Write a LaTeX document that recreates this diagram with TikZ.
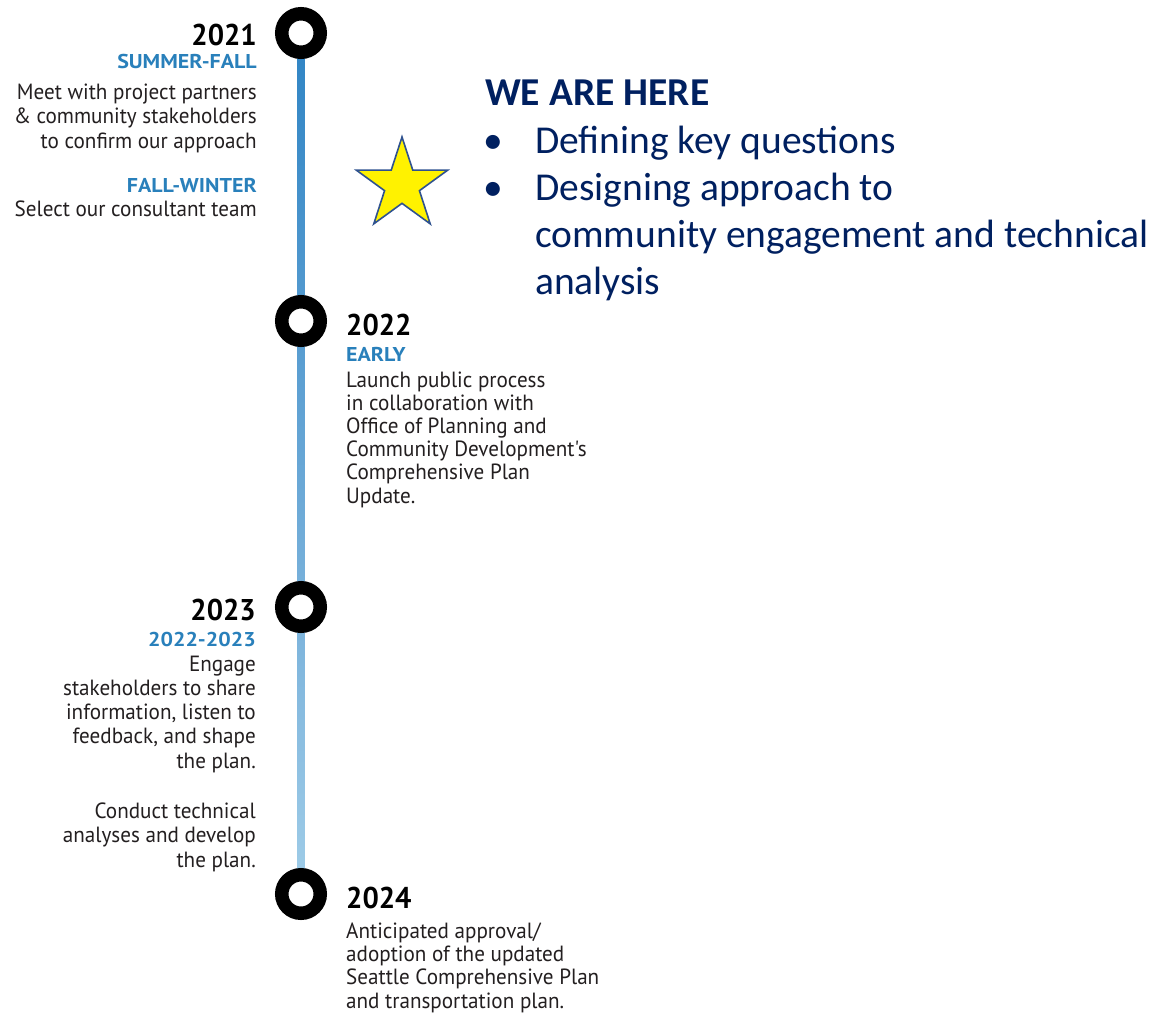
\documentclass[tikz,border=0pt]{standalone}
\usepackage{fontspec}
\usetikzlibrary{shapes.geometric}
\newfontfamily\dinfont[FakeStretch=0.96]{PT Sans}
\newfontfamily\dinwide[FakeStretch=1.1]{PT Sans}
\newfontfamily\calfont{Carlito}
\definecolor{linetop}{RGB}{47,132,196}
\definecolor{linemid1}{RGB}{85,155,208}
\definecolor{linemid2}{RGB}{122,178,219}
\definecolor{linebot}{RGB}{160,205,232}
\definecolor{seasonblue}{RGB}{41,128,187}
\definecolor{navy}{RGB}{0,32,96}
\definecolor{starblue}{RGB}{47,82,143}
\definecolor{bodygray}{RGB}{35,31,32}
\tikzset{
  ring/.style={circle, draw=black, line width=13.5pt, minimum size=38.5pt, inner sep=0pt, fill=white},
  year/.style={inner sep=0pt, font=\dinfont\bfseries\fontsize{30}{30}\selectfont, text=black},
  season/.style={inner sep=0pt, font=\dinwide\bfseries\fontsize{20}{20}\selectfont, text=seasonblue},
  body/.style={inner sep=0pt, font=\dinfont\fontsize{22}{24}\selectfont, text=bodygray},
  here/.style={inner sep=0pt, font=\calfont\bfseries\fontsize{39.5}{47}\selectfont, text=navy},
  item/.style={inner sep=0pt, font=\calfont\fontsize{39.5}{47}\selectfont, text=navy, align=left},
}
\begin{document}
\begin{tikzpicture}[x=1pt,y=-1pt]
\useasboundingbox[fill=white] (0,0) rectangle (1170,1015);
% ring positions
\coordinate (p1) at (301,33);
\coordinate (p2) at (301,321);
\coordinate (p3) at (301,607);
\coordinate (p4) at (301,894);
% timeline line (shaded segments between rings)
\shade[top color=linetop, bottom color=linemid1] ([xshift=-3.5pt]p1) rectangle ([xshift=3.5pt]p2);
\shade[top color=linemid1, bottom color=linemid2] ([xshift=-3.5pt]p2) rectangle ([xshift=3.5pt]p3);
\shade[top color=linemid2, bottom color=linebot] ([xshift=-3.5pt]p3) rectangle ([xshift=3.5pt]p4);
\node[ring] (r1) at (p1) {};
\node[ring] (r2) at (p2) {};
\node[ring] (r3) at (p3) {};
\node[ring] (r4) at (p4) {};

% 2021 (multi-line nodes: base anchor = last line)
\node[year, anchor=base east] (y1) at (257,45) {2021};
\node[season, anchor=base east] (s1) at (257,68) {SUMMER-FALL};
\node[body, anchor=base east, align=right, font=\dinfont\fontsize{22}{24.5}\selectfont] (b1) at (257,148) {Meet with project partners\\\& community stakeholders\\to confirm our approach};
\node[season, anchor=base east] (s1b) at (257,192) {FALL-WINTER};
\node[body, anchor=base east] (b1b) at (257,216) {Select our consultant team};

% 2022
\node[year, anchor=base west] (y2) at (346,335) {2022};
\node[season, anchor=base west] (s2) at (346,361) {EARLY};
\node[body, anchor=base west, align=left, font=\dinfont\fontsize{22}{23.2}\selectfont] (b2) at (346,503) {Launch public process\\in collaboration with\\Office of Planning and\\Community Development's\\Comprehensive Plan\\Update.};

% 2023
\node[year, anchor=base east] (y3) at (256,620) {2023};
\node[season, anchor=base east] (s3) at (256,646) {2022-2023};
\node[body, anchor=base east, align=right, font=\dinfont\fontsize{22}{24.2}\selectfont] (b3) at (256,768) {Engage\\stakeholders to share\\information, listen to\\feedback, and shape\\the plan.};
\node[body, anchor=base east, align=right, font=\dinfont\fontsize{22}{24.5}\selectfont] (b3b) at (256,867) {Conduct technical\\analyses and develop\\the plan.};

% 2024
\node[year, anchor=base west] (y4) at (346,908) {2024};
\node[body, anchor=base west, align=left, font=\dinfont\fontsize{22}{23.3}\selectfont] (b4) at (346,1008) {Anticipated approval/\\adoption of the updated\\Seattle Comprehensive Plan\\and transportation plan.};

% We are here
\node[star, star points=5, star point ratio=2.618, minimum size=96pt, inner sep=0pt, fill=yellow, draw=starblue, line width=1.6pt] (st) at (402,185) {};
\node[here, anchor=base west] (h) at (485,105) {WE ARE HERE};
\node[item, anchor=base west] (bu1) at (483,153) {•};
\node[item, anchor=base west] (i1) at (535,153) {Defining key questions};
\node[item, anchor=base west] (bu2) at (483,200) {•};
\node[item, anchor=base west] (i2) at (535,294) {Designing approach to\\community engagement and technical\\analysis};
\end{tikzpicture}
\end{document}
